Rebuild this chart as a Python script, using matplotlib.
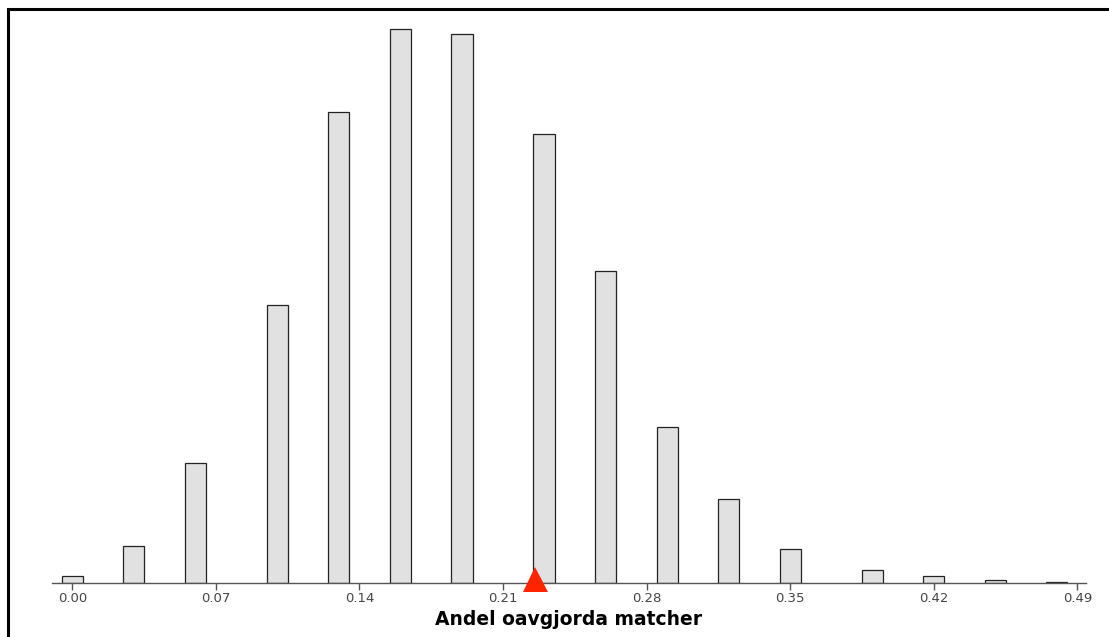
import numpy as np
import matplotlib
matplotlib.use('Agg')
import matplotlib.pyplot as plt
from matplotlib.patches import Rectangle
from matplotlib.transforms import offset_copy

# andel oavgjorda matcher (bin centers) och antal simuleringar
andel = [0.00, 0.03, 0.06, 0.10, 0.13, 0.16, 0.19, 0.23, 0.26, 0.29, 0.32, 0.35, 0.39, 0.42, 0.45, 0.48]
antal = [21, 119, 391, 904, 1534, 1803, 1788, 1462, 1014, 508, 273, 111, 42, 21, 8, 2]
observerat = 0.2256  # röd triangel
ticks = [0.00, 0.07, 0.14, 0.21, 0.28, 0.35, 0.42, 0.49]

W, H = 1109, 637
fig = plt.figure(figsize=(W / 100, H / 100), dpi=100)
ax = fig.add_axes([52 / W, (H - 582.7) / H, 1033.7 / W, (582.7 - 20) / H])

ax.bar(andel, antal, width=0.0103, color='#e1e1e1', edgecolor='#222222', linewidth=0.9, zorder=2)
ax.plot([observerat], [0], marker='^', markersize=18, color='#ff2400', markeredgewidth=0,
        clip_on=False, zorder=5, transform=offset_copy(ax.transData, fig, y=3.4, units='dots'))

ax.set_xlim(-0.0099, 0.4941)
ax.set_ylim(0, 1803 * 1.0 / ((582.7 - 29.3) / (582.7 - 20)))
ax.set_xticks(ticks)
ax.set_xticklabels(['%.2f' % t for t in ticks])
ax.tick_params(axis='x', length=5, width=1, color='#555555', labelcolor='#444444',
               labelsize=9.5, pad=2)
ax.set_yticks([])
for s in ['left', 'right', 'top']:
    ax.spines[s].set_visible(False)
ax.spines['bottom'].set_color('#555555')
ax.spines['bottom'].set_linewidth(1)
ax.set_xlabel('Andel oavgjorda matcher', fontsize=13.5, fontweight='bold', labelpad=3)

# ram runt figuren
fig.patches.append(Rectangle((8 / W, -0.1), 1.2, (H - 9) / H + 0.1, transform=fig.transFigure,
                             fill=False, edgecolor='black', linewidth=2.2, clip_on=False))

fig.savefig('out.png', dpi=100)
